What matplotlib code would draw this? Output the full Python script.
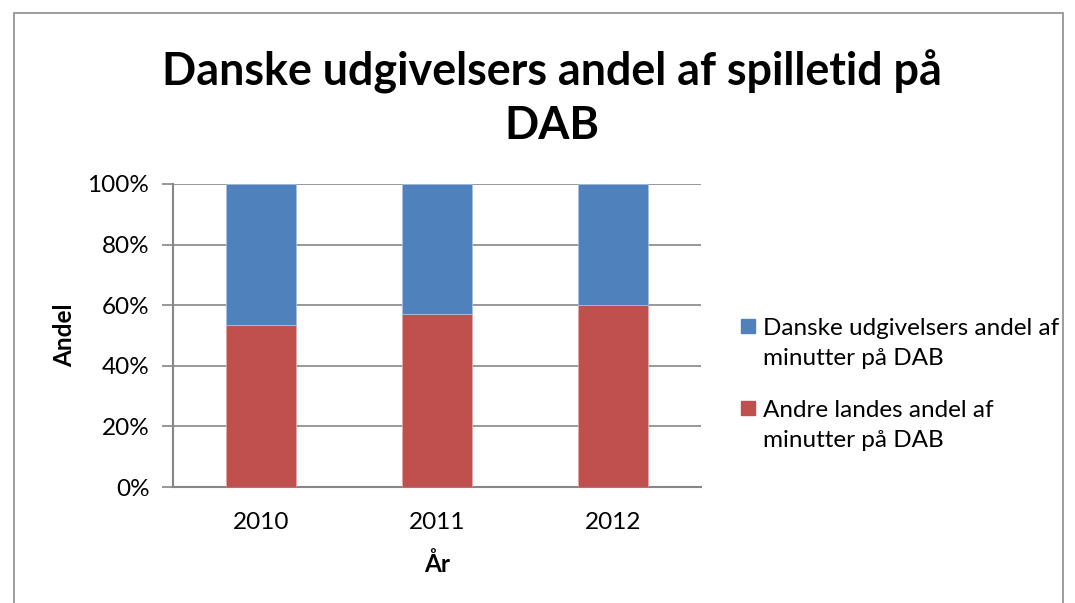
import matplotlib
matplotlib.use("Agg")
import matplotlib.pyplot as plt
from matplotlib.patches import Rectangle
from matplotlib.ticker import PercentFormatter

plt.rcParams['font.family'] = ['Lato', 'DejaVu Sans']

years = ['2010', '2011', '2012']
andre = [53.5, 57.0, 60.0]          # Andre landes andel af minutter på DAB
danske = [46.5, 43.0, 40.0]         # Danske udgivelsers andel af minutter på DAB
series_labels = ['Danske udgivelsers andel af\nminutter på DAB',
                 'Andre landes andel af\nminutter på DAB']
blue = '#4F81BD'
red = '#C0504D'
grid_c = '#868686'
fs = 17.5

W, H = 1075, 603
fig = plt.figure(figsize=(W / 100, H / 100), dpi=100)

# outer chart frame
fig.add_artist(Rectangle((14 / W, -0.05), (1063 - 14) / W, 1.05 - 13 / H,
                         transform=fig.transFigure, fill=False,
                         edgecolor='#8c8c8c', lw=1.2))

ax = fig.add_axes([173 / W, 1 - 487 / H, (701 - 173) / W, (487 - 184) / H])

x = range(len(years))
ax.bar(x, andre, width=0.4, color=red, edgecolor='#e3a8a6', lw=0.6, zorder=3)
ax.bar(x, danske, width=0.4, bottom=andre, color=blue, edgecolor='#a9bfe0', lw=0.6, zorder=3)

ax.set_xlim(-0.5, 2.5)
ax.set_ylim(0, 100)
ax.set_yticks(range(0, 101, 20))
ax.yaxis.set_major_formatter(PercentFormatter(decimals=0))
ax.set_xticks(list(x))
ax.set_xticklabels(years)
ax.yaxis.grid(True, color=grid_c, lw=1.2, zorder=0)
for s in ['top', 'right']:
    ax.spines[s].set_visible(False)
for s in ['left', 'bottom']:
    ax.spines[s].set_color(grid_c)
    ax.spines[s].set_linewidth(1.5)
ax.tick_params(axis='y', length=8, width=1.2, color=grid_c, labelsize=fs, pad=9)
ax.tick_params(axis='x', length=0, labelsize=fs, pad=18)

ax.set_ylabel('Andel', fontsize=fs, fontweight='bold', labelpad=8)
ax.set_xlabel('År', fontsize=fs, fontweight='bold', labelpad=14)

fig.text(552 / W, 1 - 85 / H, 'Danske udgivelsers andel af spilletid på',
         ha='center', va='baseline', fontsize=32.3, fontweight='bold')
fig.text(552 / W, 1 - 139 / H, 'DAB',
         ha='center', va='baseline', fontsize=32.3, fontweight='bold')

# legend, blue first; square next to the first line of each label
for i, (lab, col) in enumerate(zip(series_labels, [blue, red])):
    y0 = 319 + i * 82
    fig.add_artist(Rectangle((741 / W, 1 - (y0 + 14) / H), 14 / W, 14 / H,
                             transform=fig.transFigure, color=col))
    for j, line in enumerate(lab.split('\n')):
        fig.text(763 / W, 1 - (y0 + 16 + 30 * j) / H, line, ha='left',
                 va='baseline', fontsize=fs)

fig.savefig('out.png', dpi=100)
